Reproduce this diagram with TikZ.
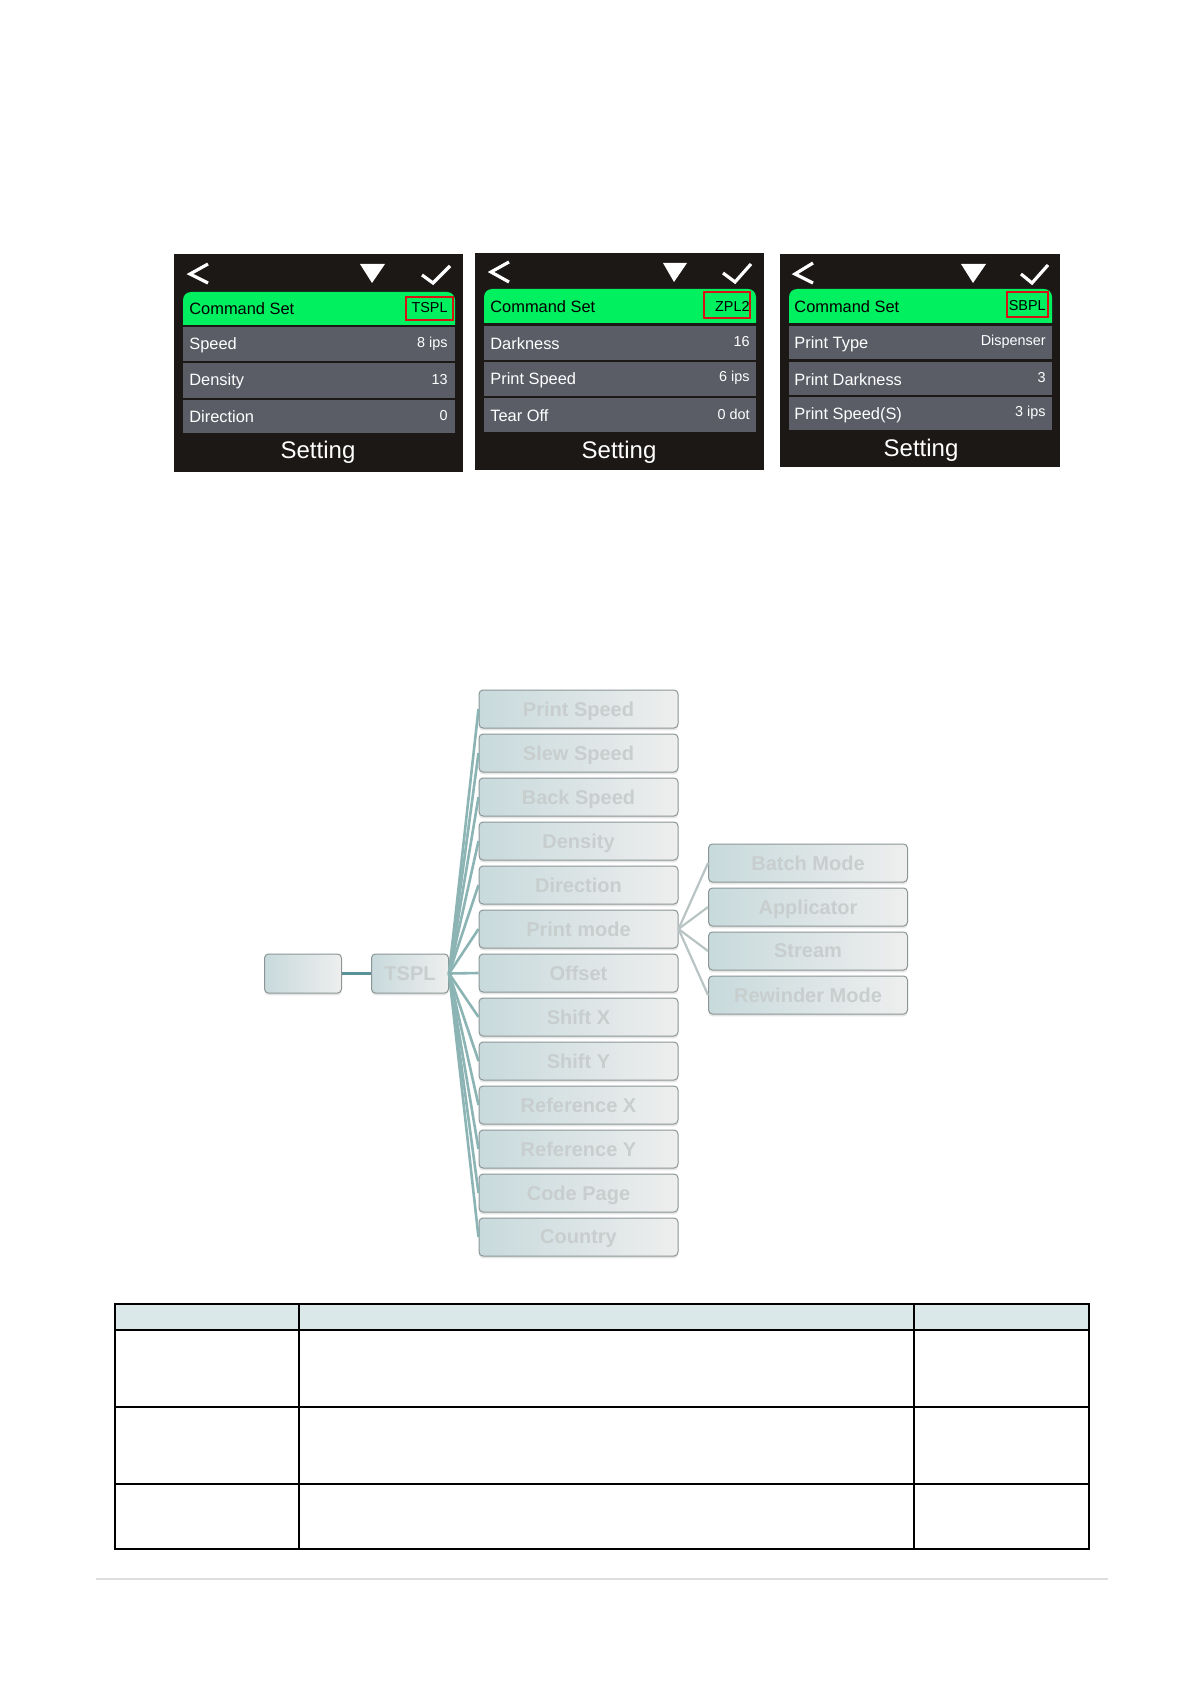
\documentclass[tikz,border=0pt]{standalone}
\usepackage{fontspec}
\setmainfont{Liberation Sans}
\usetikzlibrary{shadows}
\definecolor{scrbg}{RGB}{28,24,22}
\definecolor{scrgreen}{RGB}{0,240,96}
\definecolor{scrrow}{RGB}{90,93,102}
\definecolor{hlred}{RGB}{215,20,20}
\definecolor{boxl}{RGB}{200,218,220}
\definecolor{boxr}{RGB}{238,238,238}
\definecolor{boxedge}{RGB}{140,150,150}
\definecolor{boxtxt}{RGB}{200,206,206}
\definecolor{fanc}{RGB}{140,180,180}
\definecolor{rootc}{RGB}{90,145,150}
\definecolor{subc}{RGB}{185,196,196}
\definecolor{hdr}{RGB}{218,232,234}
\definecolor{footc}{RGB}{222,222,222}
\tikzset{
  scr/.style={fill=scrbg},
  bar/.style={fill=scrgreen},
  rowbar/.style={fill=scrrow},
  lbl/.style={anchor=west, inner sep=0pt, text=white, font=\fontsize{8.2}{10}\selectfont},
  glbl/.style={lbl, text=black},
  val/.style={anchor=east, inner sep=0pt, text=white, font=\fontsize{7.2}{9}\selectfont},
  gval/.style={val, text=black},
  ttl/.style={inner sep=0pt, text=white, font=\fontsize{12}{14}\selectfont},
  hl/.style={draw=hlred, line width=1pt},
  icon/.style={draw=white, line width=1.6pt},
  tri/.style={fill=white},
  tbox/.style={draw=boxedge, line width=0.5pt, rounded corners=2pt, left color=boxl, right color=boxr,
    minimum width=99.5pt, minimum height=19pt, inner sep=0pt, text=boxtxt, text depth=-1.5pt,
    font=\bfseries\fontsize{10}{12}\selectfont,
    drop shadow={opacity=0.2, shadow xshift=0pt, shadow yshift=-1.2pt}},
  sbox/.style={tbox, minimum width=38.5pt, minimum height=19.5pt},
  fan/.style={draw=fanc, line width=1.3pt},
  rootln/.style={draw=rootc, line width=1.5pt},
  subfan/.style={draw=subc, line width=1.1pt},
  tab/.style={draw=black, line width=1pt},
  foot/.style={draw=footc, line width=0.8pt}
}
\begin{document}
\begin{tikzpicture}[x=0.5pt, y=-0.5pt]
\useasboundingbox[fill=white] (0,0) rectangle (1191,1684);

% ---------- Screen 1 (TSPL) ----------
\fill[scr] (174,254) rectangle (463,472);
\fill[bar] (183,325) [rounded corners=4pt] -- (183,292) -- (455,292) [sharp corners] -- (455,325) -- cycle;
\fill[rowbar] (183,327) rectangle (455,361);
\fill[rowbar] (183,363) rectangle (455,398);
\fill[rowbar] (183,400) rectangle (455,433);
\draw[icon] (208,264) -- (190,274) -- (208,283);
\fill[tri] (360,264) -- (385,264) -- (372,283) -- cycle;
\draw[icon] (422,275) -- (433,283) -- (450,266);
\node[glbl] (a1) at (189,309) {Command Set};
\node[gval] (a1v) at (448,308) {TSPL};
\draw[hl] (406,297) rectangle (453,320);
\node[lbl] (a2) at (189,345) {Speed};
\node[val] (a2v) at (448,344) {8 ips};
\node[lbl] (a3) at (189,381) {Density};
\node[val] (a3v) at (448,380) {13};
\node[lbl] (a4) at (189,417) {Direction};
\node[val] (a4v) at (448,416) {0};
\node[ttl] (at) at (318,452) {Setting};

% ---------- Screen 2 (ZPL2) ----------
\fill[scr] (475,253) rectangle (764,470);
\fill[bar] (484,323) [rounded corners=4pt] -- (484,289) -- (756,289) [sharp corners] -- (756,323) -- cycle;
\fill[rowbar] (484,326) rectangle (756,360);
\fill[rowbar] (484,362) rectangle (756,396);
\fill[rowbar] (484,398) rectangle (756,432);
\draw[icon] (509,262) -- (491,272) -- (509,282);
\fill[tri] (663,263) -- (687,263) -- (674,282) -- cycle;
\draw[icon] (723,273) -- (735,282) -- (751,264);
\node[glbl] (b1) at (490,307) {Command Set};
\node[gval] (b1v) at (750,306) {ZPL2};
\draw[hl] (704,292) rectangle (750,318);
\node[lbl] (b2) at (490,344) {Darkness};
\node[val] (b2v) at (750,342) {16};
\node[lbl] (b3) at (490,380) {Print Speed};
\node[val] (b3v) at (750,378) {6 ips};
\node[lbl] (b4) at (490,416) {Tear Off};
\node[val] (b4v) at (750,414) {0 dot};
\node[ttl] (bt) at (619,452) {Setting};

% ---------- Screen 3 (SBPL) ----------
\fill[scr] (780,254) rectangle (1060,467);
\fill[bar] (789,323) [rounded corners=4pt] -- (789,289) -- (1052,289) [sharp corners] -- (1052,323) -- cycle;
\fill[rowbar] (789,326) rectangle (1052,359);
\fill[rowbar] (789,362) rectangle (1052,395);
\fill[rowbar] (789,397) rectangle (1052,430);
\draw[icon] (813,263) -- (795,274) -- (813,283);
\fill[tri] (961,264) -- (986,264) -- (973,283) -- cycle;
\draw[icon] (1021,274) -- (1032,283) -- (1048,265);
\node[glbl] (c1) at (794,307) {Command Set};
\node[gval] (c1v) at (1046,306) {SBPL};
\draw[hl] (1007,292) rectangle (1048,317);
\node[lbl] (c2) at (794,344) {Print Type};
\node[val] (c2v) at (1046,342) {Dispenser};
\node[lbl] (c3) at (794,380) {Print Darkness};
\node[val] (c3v) at (1046,378) {3};
\node[lbl] (c4) at (794,415) {Print Speed(S)};
\node[val] (c4v) at (1046,413) {3 ips};
\node[ttl] (ct) at (921,450) {Setting};

% ---------- Tree ----------
\node[sbox] (root) at (303,973.5) {};
\node[sbox] (tspl) at (410,973.5) {TSPL};
\foreach \t [count=\i from 0] in {Print Speed,Slew Speed,Back Speed,Density,Direction,Print mode,Offset,Shift X,Shift Y,Reference X,Reference Y,Code Page,Country}{
  \node[tbox] (l\i) at (578.5,{709+44*\i}) {\t};
}
\foreach \t [count=\i from 0] in {Batch Mode,Applicator,Stream,Rewinder Mode}{
  \node[tbox] (m\i) at (808,{863+44*\i}) {\t};
}
\draw[rootln] (root.east) -- (tspl.west);
\foreach \i in {0,...,12}{
  \draw[fan] (tspl.east) -- (l\i.west);
}
\foreach \i in {0,...,3}{
  \draw[subfan] (l5.east) -- (m\i.west);
}

% ---------- Table ----------
\fill[hdr] (115,1304) rectangle (1089,1330);
\draw[tab] (115,1304) rectangle (1089,1549);
\draw[tab] (115,1330) -- (1089,1330);
\draw[tab] (115,1407) -- (1089,1407);
\draw[tab] (115,1484) -- (1089,1484);
\draw[tab] (299,1304) -- (299,1549);
\draw[tab] (914,1304) -- (914,1549);

% ---------- footer rule ----------
\draw[foot] (96,1579) -- (1108,1579);
\end{tikzpicture}
\end{document}
